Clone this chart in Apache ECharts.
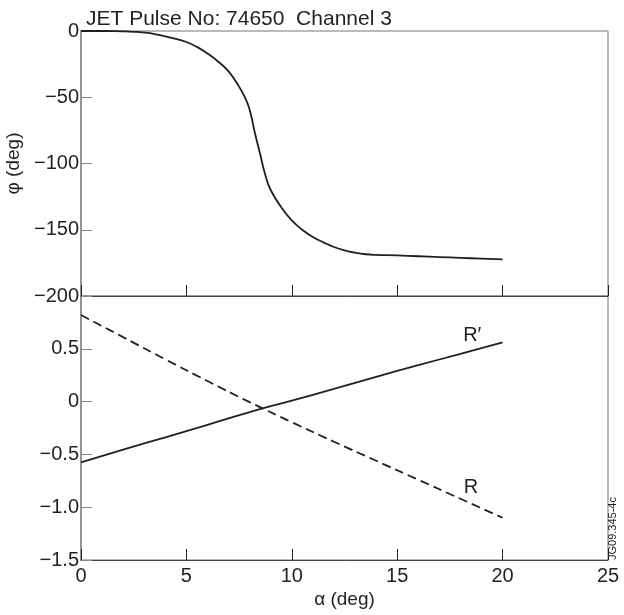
<!DOCTYPE html>
<html>
<head>
<meta charset="utf-8">
<script src="https://cdn.jsdelivr.net/npm/echarts@6/dist/echarts.min.js"></script>
<style>html,body{margin:0;padding:0;background:#fff}#c{width:624px;height:615px}</style>
</head>
<body>
<div id="c"></div>
<script>
// phase phi (deg) versus alpha (deg)
const phiX = [0, 1, 2, 2.5, 3, 3.5, 4, 4.5, 5, 5.5, 6, 6.5, 7, 7.5, 7.8, 8.0, 8.25, 8.5, 8.75, 9.0, 9.5, 10, 10.5, 11, 11.5, 12, 12.5, 13, 13.5, 14, 15, 16, 17, 18, 19, 20];
const phiY = [0, 0, -0.3, -0.6, -1.2, -2.3, -4, -6, -8.3, -12, -17, -23, -30.5, -42, -51, -59.5, -77, -93, -109, -120, -133, -143, -150, -155.5, -159.5, -163, -165.5, -167.3, -168.5, -169, -169.4, -170, -170.6, -171.2, -171.8, -172.4];
// R and R' versus alpha
const rX = [0, 2, 4, 6, 8, 10, 12, 14, 16, 18, 20];
const rVals = [0.82, 0.61, 0.40, 0.195, -0.005, -0.195, -0.38, -0.56, -0.74, -0.92, -1.10];
const rpVals = [-0.575, -0.455, -0.338, -0.22, -0.10, 0.01, 0.12, 0.235, 0.345, 0.452, 0.56];
const titleText = 'JET Pulse No: 74650  Channel 3';
const labelPos = { Rp: [18.56, 0.63], R: [18.5, -0.81] };

const INK = '#231f20';
const FONT = 'Liberation Sans, Arial, Helvetica, sans-serif';
const minus = s => String(s).replace('-', '\u2212');

const chart = echarts.init(document.getElementById('c'), null, { renderer: 'canvas' });

chart.setOption({
  animation: false,
  textStyle: { fontFamily: FONT },
  title: { text: titleText, left: 81, top: 4, textStyle: { fontSize: 21, fontWeight: 'normal', color: INK, fontFamily: FONT } },
  grid: [
    { left: 81, top: 31, width: 527, height: 265, show: true, borderColor: '#777', borderWidth: 1, containLabel: false, outerBoundsMode: 'none' },
    { left: 81, top: 296, width: 527, height: 264, show: true, borderColor: '#777', borderWidth: 1, containLabel: false, outerBoundsMode: 'none' }
  ],
  xAxis: [
    { gridIndex: 0, type: 'value', min: 0, max: 25, interval: 5,
      axisLine: { onZero: false, lineStyle: { color: '#444', width: 1 } },
      axisTick: { inside: true, length: 11, lineStyle: { color: INK } },
      axisLabel: { show: false }, splitLine: { show: false } },
    { gridIndex: 1, type: 'value', min: 0, max: 25, interval: 5,
      axisLine: { onZero: false, lineStyle: { color: '#444', width: 1 } },
      axisTick: { inside: true, length: 11, lineStyle: { color: INK } },
      axisLabel: { fontSize: 20, color: INK, margin: 6, fontFamily: FONT },
      splitLine: { show: false },
      name: '\u03b1 (deg)', nameLocation: 'middle', nameGap: 30,
      nameTextStyle: { fontSize: 19, color: INK, fontFamily: FONT } }
  ],
  yAxis: [
    { gridIndex: 0, type: 'value', min: -200, max: 0, interval: 50,
      axisLine: { onZero: false, lineStyle: { color: '#888', width: 1.5 } },
      axisTick: { inside: true, length: 11, lineStyle: { color: '#888' } },
      axisLabel: { fontSize: 20, color: INK, margin: 2, fontFamily: FONT, formatter: v => minus(v) },
      splitLine: { show: false },
      name: '\u03c6 (deg)', nameLocation: 'middle', nameGap: 54,
      nameTextStyle: { fontSize: 19, color: INK, fontFamily: FONT } },
    { gridIndex: 1, type: 'value', min: -1.5, max: 1, interval: 0.5,
      axisLine: { onZero: false, lineStyle: { color: '#888', width: 1.5 } },
      axisTick: { inside: true, length: 11, lineStyle: { color: '#888' } },
      axisLabel: { fontSize: 20, color: INK, margin: 2, fontFamily: FONT,
        formatter: v => (v >= 1 ? '' : (v === 0 ? '0' : minus(v.toFixed(1)))) },
      splitLine: { show: false } }
  ],
  series: [
    { type: 'line', xAxisIndex: 0, yAxisIndex: 0, data: phiX.map((x, i) => [x, phiY[i]]),
      showSymbol: false, smooth: 0.5, lineStyle: { color: INK, width: 1.8 } },
    { type: 'line', xAxisIndex: 1, yAxisIndex: 1, data: rX.map((x, i) => [x, rpVals[i]]),
      showSymbol: false, smooth: 0.5, lineStyle: { color: INK, width: 1.8 },
      markPoint: { symbol: 'circle', symbolSize: 1, itemStyle: { color: 'rgba(0,0,0,0)' },
        label: { show: true, position: 'inside', formatter: 'R\u2032', fontSize: 20, color: INK, fontFamily: FONT },
        data: [{ coord: labelPos.Rp }] } },
    { type: 'line', xAxisIndex: 1, yAxisIndex: 1, data: rX.map((x, i) => [x, rVals[i]]),
      showSymbol: false, smooth: 0.5, lineStyle: { color: INK, width: 1.8, type: [9, 5] },
      markPoint: { symbol: 'circle', symbolSize: 1, itemStyle: { color: 'rgba(0,0,0,0)' },
        label: { show: true, position: 'inside', formatter: 'R', fontSize: 20, color: INK, fontFamily: FONT },
        data: [{ coord: labelPos.R }] } }
  ],
  graphic: [
    { type: 'text', x: 618, y: 560, rotation: Math.PI / 2,
      style: { text: 'JG09.345-4c', fontSize: 11, fill: INK, fontFamily: FONT, align: 'left', verticalAlign: 'bottom' } }
  ]
});
</script>
</body>
</html>
